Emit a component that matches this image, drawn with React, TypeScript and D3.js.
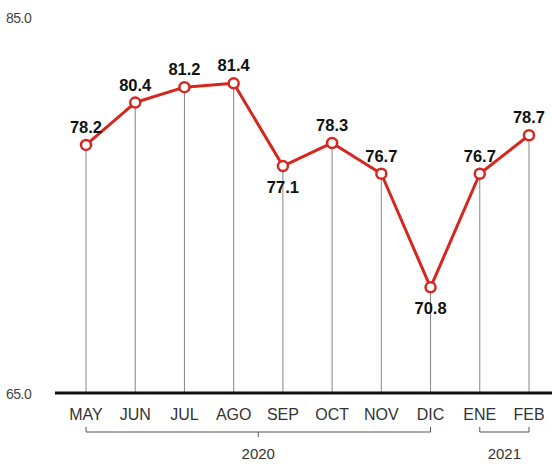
import React from 'react'
import * as d3 from 'd3'

const months = ['MAY', 'JUN', 'JUL', 'AGO', 'SEP', 'OCT', 'NOV', 'DIC', 'ENE', 'FEB']
const values = [78.2, 80.4, 81.2, 81.4, 77.1, 78.3, 76.7, 70.8, 76.7, 78.7]
const labelBelow = [false, false, false, false, true, false, false, true, false, false]
const years = [
  { label: '2020', from: 'MAY', to: 'DIC' },
  { label: '2021', from: 'ENE', to: 'FEB' },
]
const yTicks = [65, 85]

export default function App() {
  const width = 552, height = 467
  const x = d3.scalePoint<string>().domain(months).range([86, 529])
  const y = d3.scaleLinear().domain([65, 85]).range([399, 14])
  const base = 393
  const red = '#d7261e'
  const font = "'Liberation Sans', Arial, sans-serif"

  const line = d3.line<number>()
    .x((_, i) => x(months[i])!)
    .y(d => y(d))

  return (
    <svg width={width} height={height} style={{ position: 'absolute', left: 0, top: 0, background: '#fff' }}>
      {months.map((m, i) => (
        <line key={m} x1={x(m)} x2={x(m)} y1={y(values[i])} y2={base} stroke="#666" strokeWidth={0.8} />
      ))}
      <line x1={55} x2={552} y1={base} y2={base} stroke="#111" strokeWidth={3} />
      {yTicks.map(t => (
        <text key={t} x={6} y={t === 65 ? base + 6 : 23} fontFamily={font} fontSize={14} fill="#444" letterSpacing={-0.5}>
          {t.toFixed(1)}
        </text>
      ))}
      {months.map(m => (
        <text key={m} x={x(m)} y={420} textAnchor="middle" fontFamily={font} fontSize={16} fill="#333" fontWeight={300}>
          {m}
        </text>
      ))}
      {years.map(yr => {
        const x1 = x(yr.from)!, x2 = x(yr.to)!, mid = (x1 + x2) / 2
        return (
          <g key={yr.label}>
            <path d={`M${x1},${427}V${432}H${x2}V${427}`} fill="none" stroke="#555" strokeWidth={1} />
            {yr.label === '2020' && <line x1={mid} x2={mid} y1={432} y2={437} stroke="#555" strokeWidth={1} />}
            <text x={mid} y={459} textAnchor="middle" fontFamily={font} fontSize={15} fill="#333">{yr.label}</text>
          </g>
        )
      })}
      <path d={line(values)!} fill="none" stroke={red} strokeWidth={3} strokeLinejoin="round" />
      {values.map((v, i) => (
        <circle key={i} cx={x(months[i])} cy={y(v)} r={5} fill="#fff" stroke={red} strokeWidth={2.5} />
      ))}
      {values.map((v, i) => (
        <text key={i} x={x(months[i])!} y={labelBelow[i] ? y(v) + 27 : y(v) - 12} textAnchor="middle"
          fontFamily={font} fontSize={16.5} fontWeight="bold" fill="#111">
          {v.toFixed(1)}
        </text>
      ))}
    </svg>
  )
}
